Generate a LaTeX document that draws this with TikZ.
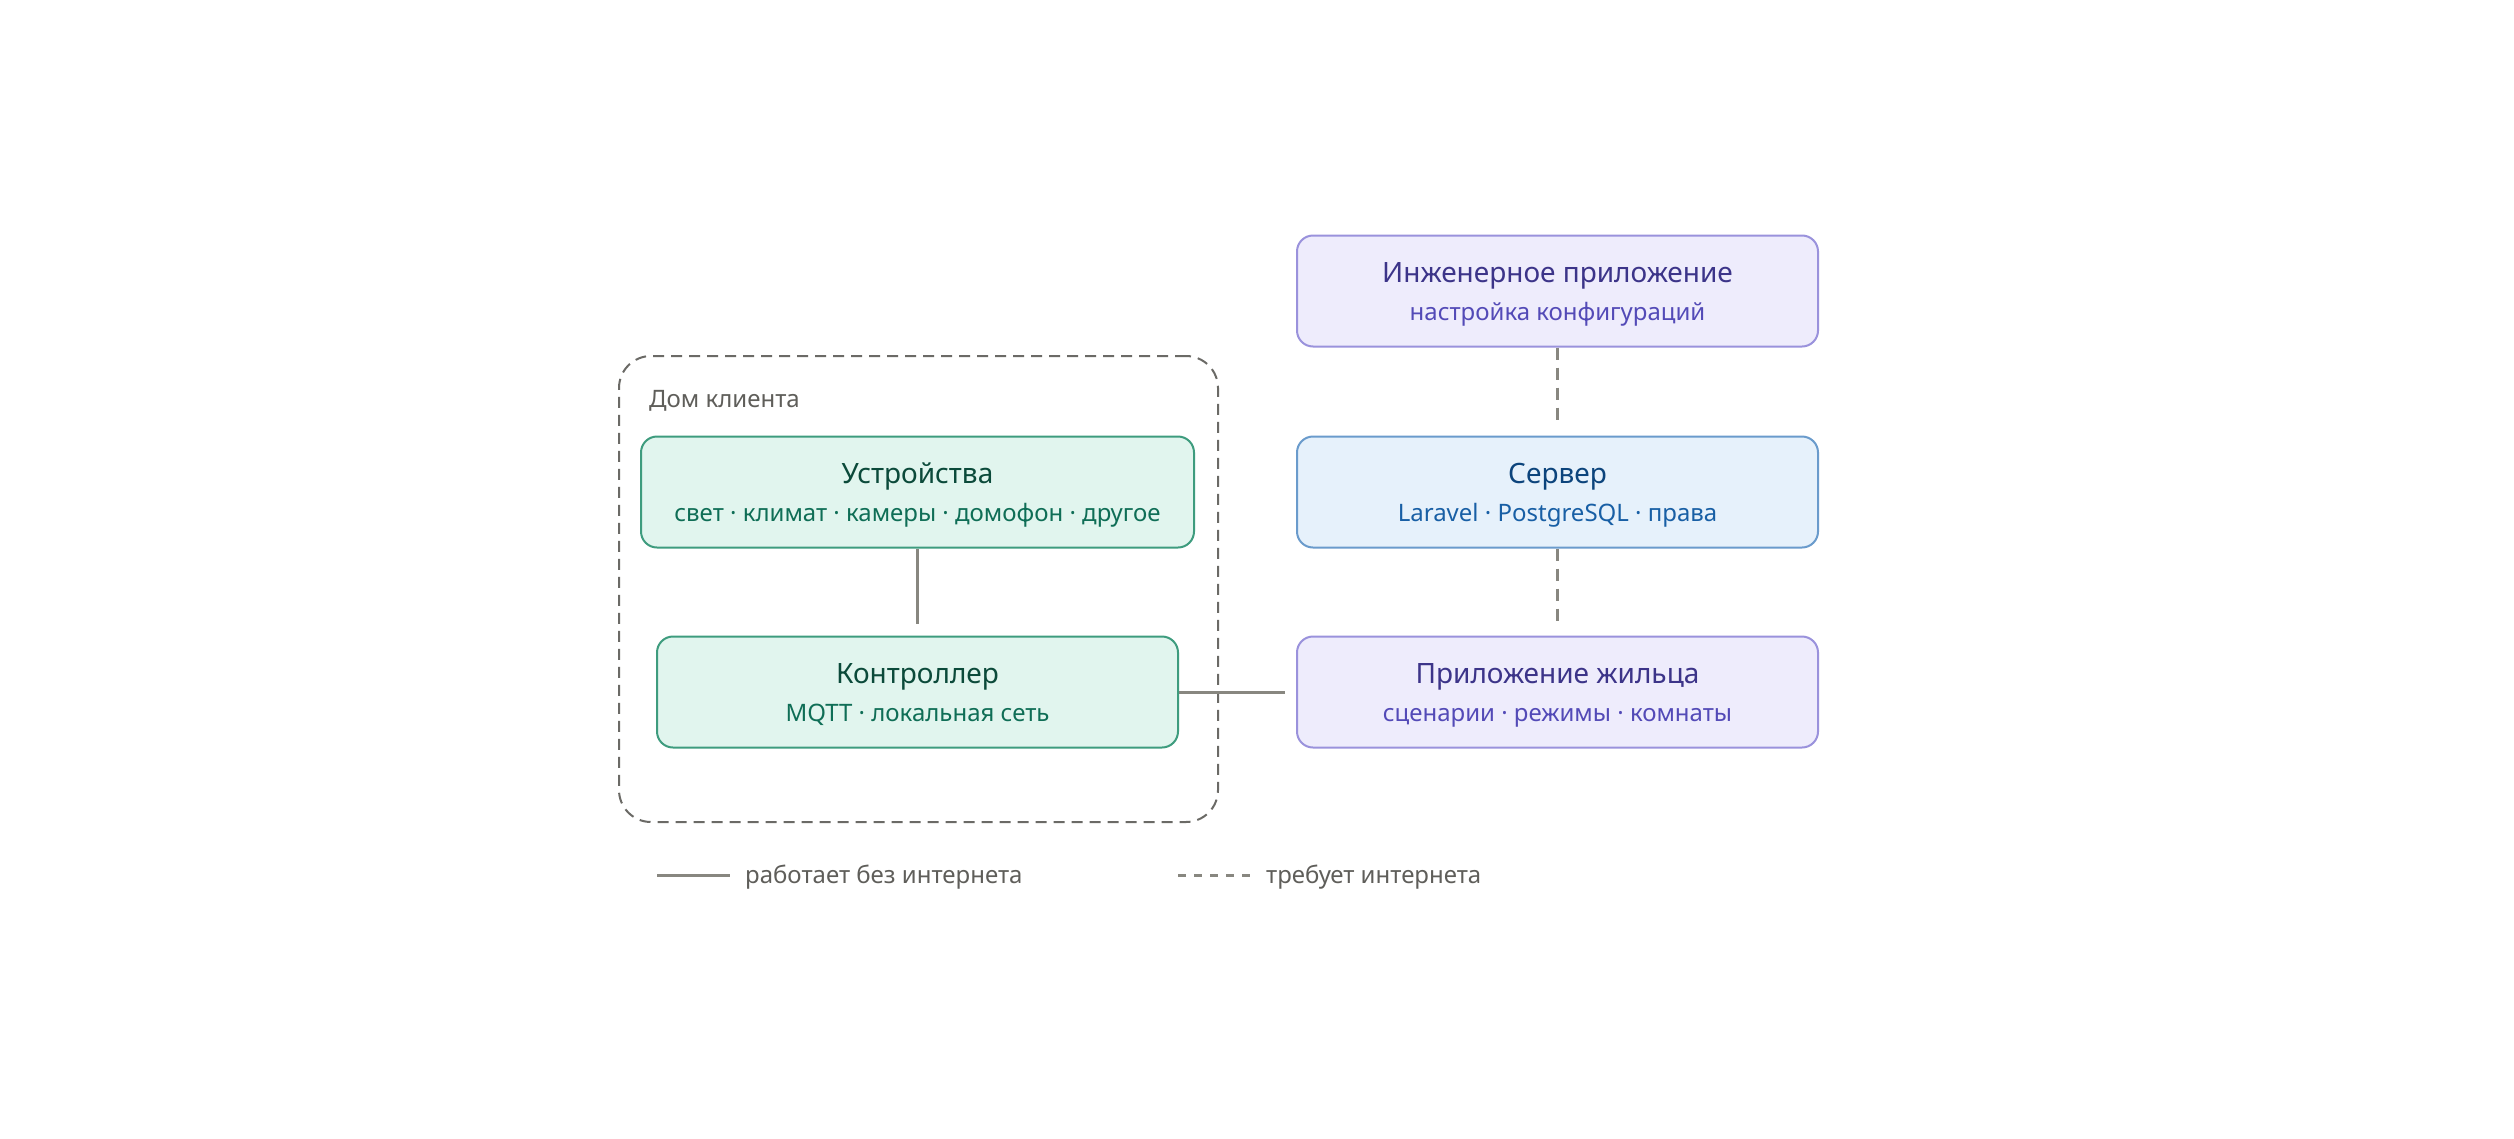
\documentclass[tikz,border=0pt]{standalone}
\usepackage{fontspec}
\setmainfont{Noto Sans}
\usetikzlibrary{calc}
\definecolor{gfill}{HTML}{E1F5EE}
\definecolor{gdraw}{HTML}{3E9C7E}
\definecolor{gtitle}{HTML}{0B4A3A}
\definecolor{gsub}{HTML}{0F6E56}
\definecolor{pfill}{HTML}{EEECFC}
\definecolor{pdraw}{HTML}{9A92DC}
\definecolor{ptitle}{HTML}{3C3489}
\definecolor{psub}{HTML}{534AB7}
\definecolor{bfill}{HTML}{E6F1FB}
\definecolor{bdraw}{HTML}{6A9BCC}
\definecolor{btitle}{HTML}{0C447C}
\definecolor{bsub}{HTML}{185FA5}
\definecolor{conn}{HTML}{888780}
\definecolor{lbl}{HTML}{5F5E5A}
\definecolor{frame}{HTML}{6B6A66}
\tikzset{
  card/.style={rectangle, rounded corners=16pt, line width=2pt, inner sep=0pt, minimum height=111pt},
  greencard/.style={card, draw=gdraw, fill=gfill},
  purplecard/.style={card, draw=pdraw, fill=pfill},
  bluecard/.style={card, draw=bdraw, fill=bfill},
  ttl/.style={anchor=base, inner sep=0pt, font=\fontsize{28}{34}\selectfont},
  sub/.style={anchor=base, inner sep=0pt, font=\fontsize{24}{29}\selectfont},
  lab/.style={anchor=base west, inner sep=0pt, text=lbl, font=\fontsize{24}{29}\selectfont},
  solidconn/.style={draw=conn, line width=3pt},
  dashconn/.style={draw=conn, line width=3pt, dash pattern=on 12pt off 8pt},
}
\begin{document}
\begin{tikzpicture}[x=1pt, y=-1pt]
\useasboundingbox[fill=white] (0,0) rectangle (2514,1138);
% client home frame
\node[draw=frame, line width=2pt, dash pattern=on 11pt off 7pt, rounded corners=32pt, inner sep=0pt,
      minimum width=599pt, minimum height=466pt] (home) at (918.5,589) {};
\node[lab] (homelbl) at (649,407) {Дом клиента};
% left cards
\node[greencard, minimum width=553pt] (dev) at (917.5,492) {};
\node[ttl, text=gtitle] (devt) at ($(dev.center)+(0,-9)$) {Устройства};
\node[sub, text=gsub] (devs) at ($(dev.center)+(0,29)$) {свет · климат · камеры · домофон · другое};
\node[greencard, minimum width=521pt] (ctl) at (917.5,692) {};
\node[ttl, text=gtitle] (ctlt) at ($(ctl.center)+(0,-9)$) {Контроллер};
\node[sub, text=gsub] (ctls) at ($(ctl.center)+(0,29)$) {MQTT · локальная сеть};
% right cards
\node[purplecard, minimum width=521pt] (eng) at (1557.5,291) {};
\node[ttl, text=ptitle] (engt) at ($(eng.center)+(0,-9)$) {Инженерное приложение};
\node[sub, text=psub] (engs) at ($(eng.center)+(0,29)$) {настройка конфигураций};
\node[bluecard, minimum width=521pt] (srv) at (1557.5,492) {};
\node[ttl, text=btitle] (srvt) at ($(srv.center)+(0,-9)$) {Сервер};
\node[sub, text=bsub] (srvs) at ($(srv.center)+(0,29)$) {Laravel · PostgreSQL · права};
\node[purplecard, minimum width=521pt] (res) at (1557.5,692) {};
\node[ttl, text=ptitle] (rest) at ($(res.center)+(0,-9)$) {Приложение жильца};
\node[sub, text=psub] (ress) at ($(res.center)+(0,29)$) {сценарии · режимы · комнаты};
% connectors
\draw[solidconn, shorten >=12pt] (dev.south) -- (ctl.north);
\draw[solidconn, shorten >=11pt] (ctl.east) -- (res.west);
\draw[dashconn, shorten >=11pt] (eng.south) -- (srv.north);
\draw[dashconn, shorten >=12pt] (srv.south) -- (res.north);
% legend
\coordinate (l1a) at (657,875);
\coordinate (l1b) at (730,875);
\draw[solidconn] (l1a) -- (l1b);
\node[lab] (l1t) at (745,883) {работает без интернета};
\coordinate (l2a) at (1178,875);
\coordinate (l2b) at (1250,875);
\draw[draw=conn, line width=3pt, dash pattern=on 8pt off 8pt] (l2a) -- (l2b);
\node[lab] (l2t) at (1266,883) {требует интернета};
\end{tikzpicture}
\end{document}
